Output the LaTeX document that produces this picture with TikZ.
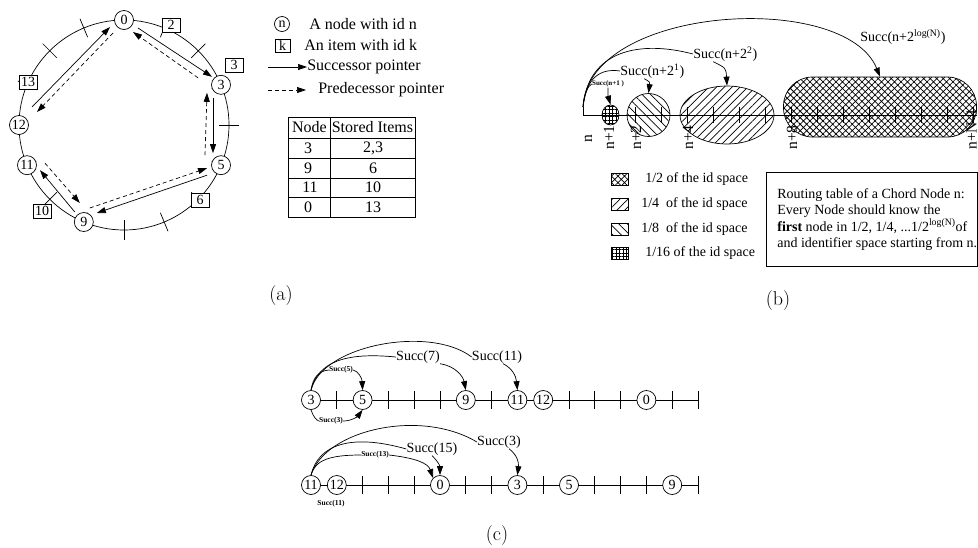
\documentclass[tikz,border=0pt]{standalone}
\usepackage{fontspec}
\newfontfamily\tm{Liberation Serif}
\usetikzlibrary{arrows.meta,patterns.meta,calc,shapes.geometric}
\newcommand\myfs[1]{\fontsize{#1}{#1}\selectfont}
\begin{document}
\begin{tikzpicture}[x=1pt,y=-1pt,font=\tm,line width=0.7pt,
  >={Triangle[length=9pt,width=6pt]},
  ringnode/.style={circle,draw,fill=white,inner sep=0pt,minimum size=19pt,font=\tm\myfs{14}},
  itembox/.style={draw,fill=white,inner sep=0pt,minimum width=18pt,minimum height=14pt,font=\tm\myfs{14}},
  txta/.style={inner sep=0pt,anchor=west,font=\tm\myfs{16}},
  txtb/.style={inner sep=0pt,anchor=west,font=\tm\myfs{14}},
  tabtxt/.style={inner sep=0pt,font=\tm\myfs{16}},
  succ/.style={->},
  pred/.style={->,dash pattern=on 4pt off 3pt},
  capt/.style={inner sep=0pt,font=\normalfont\myfs{20}},
  smalllab/.style={inner sep=0pt,font=\tm\bfseries\myfs{7.5}},
  lab/.style={inner sep=0pt,font=\tm\myfs{14}},
  rotlab/.style={inner sep=0pt,rotate=90,anchor=base west,font=\tm\myfs{15.5}},
  pgrid/.style={pattern={Hatch[angle=0,distance=3.5pt,line width=0.7pt]}},
  pnw/.style={pattern={Lines[angle=-45,distance=6pt,line width=0.7pt]}},
  pne/.style={pattern={Lines[angle=45,distance=5.5pt,line width=0.7pt]}},
  pcross/.style={pattern={Hatch[angle=45,distance=4.6pt,line width=0.75pt]}},
]
\useasboundingbox (0,0) rectangle (978,547);

% ---------------- (a) ----------------
\coordinate (C) at (124,125);
\draw (C) circle[radius=105pt];
\foreach \k in {0,...,15}{
  \draw ($(C)+({90-22.5*\k}:95pt)$) -- ($(C)+({90-22.5*\k}:115pt)$);
}
\foreach \k in {0,3,5,9,11,12}{
  \node[ringnode] (a\k) at ($(C)+({90-22.5*\k}:105pt)$) {\k};
}
\node[itembox] (i2) at (171,25) {2};
\node[itembox] (i3) at (234,65) {3};
\node[itembox] (i6) at (200,200) {6};
\node[itembox] (i10) at (42,211) {10};
\node[itembox] (i13) at (28,82) {13};

\draw[succ] ([shift={(14,8)}]a0.center) -- ([shift={(-9,-8)}]a3.center);
\draw[pred] ([shift={(-23,-7)}]a3.center) -- ([shift={(9,12)}]a0.center);
\draw[succ] ([shift={(-8,13)}]a3.center) -- ([shift={(-8,-12)}]a5.center);
\draw[pred] ([shift={(-16,-10)}]a5.center) -- ([shift={(-14,8)}]a3.center);
\draw[succ] ([shift={(-14,10)}]a5.center) -- ([shift={(13,-9)}]a9.center);
\draw[pred] ([shift={(6,-14)}]a9.center) -- ([shift={(-14,3)}]a5.center);
\draw[succ] ([shift={(-9,-10)}]a9.center) -- ([shift={(13,5)}]a11.center);
\draw[pred] ([shift={(18,-2)}]a11.center) -- ([shift={(-4,-19)}]a9.center);
\draw[succ] ([shift={(13,-18)}]a12.center) -- ([shift={(-14,7)}]a0.center);
\draw[pred] ([shift={(-11,13)}]a0.center) -- ([shift={(18,-13)}]a12.center);

% legend (a)
\node[circle,draw,inner sep=0pt,minimum size=15pt,font=\tm\myfs{14}] (lgn) at (282,24) {n};
\node[txta] (lgnt) at (309,24) {A node with id n};
\node[draw,inner sep=0pt,minimum width=15pt,minimum height=13pt,font=\tm\myfs{14}] (lgk) at (282.5,45.5) {k};
\node[txta] (lgkt) at (304,45.5) {An item with id k};
\coordinate (ls1) at (268,67);
\node[txta] (lgs) at (307,67) {Successor pointer};
\draw[succ] (ls1) -- (lgs.west);
\coordinate (ls2) at (268,90);
\coordinate (le2) at (306,90);
\node[txta] (lgp) at (318,90) {Predecessor pointer};
\draw[pred] (ls2) -- (le2);

% table
\draw (288,117) rectangle (415,217);
\foreach \y in {138,158,178,197} \draw (288,\y) -- (415,\y);
\draw (330,117) -- (330,217);
\node[tabtxt] at (309.5,127.5) {Node};
\node[tabtxt] at (372.5,127.5) {Stored Items};
\node[tabtxt] at (308,148) {3};   \node[tabtxt] at (373,148) {2,3};
\node[tabtxt] at (308,168) {9};   \node[tabtxt] at (373,168) {6};
\node[tabtxt] at (310,187.5) {11}; \node[tabtxt] at (373,187.5) {10};
\node[tabtxt] at (308,207) {0};   \node[tabtxt] at (373,207) {13};

\node[capt] at (281,296) {(a)};

% ---------------- (b) ----------------
\coordinate (bn) at (583,107);
\node[ellipse,draw,inner sep=0pt,minimum width=17pt,minimum height=20pt,pgrid] (e1) at (610.5,115) {};
\node[circle,draw,inner sep=0pt,minimum size=43pt,pnw] (e2) at (648.5,115) {};
\node[ellipse,draw,inner sep=0pt,minimum width=94pt,minimum height=58pt,pne] (e4) at (727,115) {};
\node[draw,rounded corners=29pt,inner sep=0pt,minimum width=193pt,minimum height=60pt,pcross] (e8) at (880,107) {};
\draw (583,115) -- (977,115);
\draw (bn) -- (583,115);
\foreach \k in {1,...,15} \draw ({583+26*\k},107) -- ({583+26*\k},123);

\node[rotlab] at (592,143) {n};
\node[rotlab] at (614,150) {n+1};
\node[rotlab] at (641,150) {n+2};
\node[rotlab] at (693,150) {n+4};
\node[rotlab] at (797,150) {n+8};
\node[rotlab] at (976.5,150) {n+N-1};

\node[smalllab,font=\tm\bfseries\myfs{7}] (s1) at (608,84) {Succ(n+1\ )};
\node[lab,anchor=west] (s2) at (620,71) {Succ(n+2\textsuperscript{1})};
\node[lab,anchor=west] (s3) at (693,54) {Succ(n+2\textsuperscript{2})};
\node[lab,anchor=west] (s4) at (860,37) {Succ(n+2\textsuperscript{log(N)})};

\draw (bn) .. controls (585,92) and (588,86) .. (s1.west);
\draw (bn) .. controls (586,78) and (600,68) .. (s2.west);
\draw (bn) .. controls (588,50) and (640,40) .. (s3.west);
\draw[->] (bn) .. controls (588,5) and (845,-10) .. (e8.north);
\draw[->] (s1.south) .. controls (608,96) .. (e1.north);
\draw[->] ([xshift=-8pt]s2.south) .. controls (650,82) .. (e2.north);
\draw[->] ([xshift=-12pt]s3.south) .. controls (726,68) .. (e4.north);

% legend (b)
\node[draw,inner sep=0pt,minimum width=17pt,minimum height=12pt,pcross] (b1) at (619.5,179) {};
\node[txtb] at (645,179) {1/2 of the id space};
\node[draw,inner sep=0pt,minimum width=17pt,minimum height=12pt,pne] (b2) at (619.5,204) {};
\node[txtb] at (641,204) {1/4\ \ of the id space};
\node[draw,inner sep=0pt,minimum width=17pt,minimum height=12pt,pnw] (b3) at (619.5,229.5) {};
\node[txtb] at (641,229.5) {1/8\ \ of the id space};
\node[draw,inner sep=0pt,minimum width=17pt,minimum height=12pt,pgrid] (b4) at (619.5,253) {};
\node[txtb] at (645,253) {1/16 of the id space};

\node[draw,inner sep=0pt,minimum width=211pt,minimum height=94pt] (tb) at (871.5,219) {};
\node[inner sep=0pt,anchor=base west,font=\tm\myfs{14}] at (777,198) {Routing table of a Chord Node n:};
\node[inner sep=0pt,anchor=base west,font=\tm\myfs{14}] at (777,214) {Every Node should know the};
\node[inner sep=0pt,anchor=base west,font=\tm\myfs{14}] at (777,231) {\textbf{first} node in 1/2, 1/4, ...1/2\textsuperscript{log(N)}of};
\node[inner sep=0pt,anchor=base west,font=\tm\myfs{14}] at (777,247) {and identifier space starting from n.};

\node[capt] at (778,301) {(b)};

% ---------------- (c) ----------------
\draw (311,400) -- (698,400);
\foreach \i in {1,3,4,5,7,10,11,12,14,15} \draw ({311+25.8*\i},391) -- ({311+25.8*\i},409);
\node[ringnode] (r3) at (311,400) {3};
\node[ringnode] (r5) at (362.6,400) {5};
\node[ringnode] (r9) at (465.8,400) {9};
\node[ringnode] (r11) at (517.4,400) {11};
\node[ringnode] (r12) at (543.2,400) {12};
\node[ringnode] (r0) at (646.4,400) {0};

\node[smalllab] (l5) at (341,370) {Succ(5)};
\node[smalllab] (l3) at (331,421) {Succ(3)};
\node[lab] (l7) at (418,357) {Succ(7)};
\node[lab] (l11) at (497,357) {Succ(11)};
\draw (r3.north) .. controls (313,378) and (318,371) .. (l5.west);
\draw[->] (l5.east) .. controls (358,371) and (362,378) .. (r5.north);
\draw (r3.south) .. controls (313,416) and (316,420) .. (l3.west);
\draw[->] (l3.east) .. controls (352,421) and (358,416) .. (r5.south);
\draw (r3.north) .. controls (318,362) and (345,352) .. (l7.west);
\draw[->] (l7.south east) .. controls (455,366) and (463,376) .. (r9.north);
\draw (r3.north) .. controls (322,345) and (430,325) .. (l11.west);
\draw[->] ([xshift=6pt]l11.south) .. controls (512,368) and (516,376) .. (r11.north);

\draw (311,485) -- (698,485);
\foreach \i in {2,3,4,6,7,9,11,12,13,15} \draw ({311+25.8*\i},476) -- ({311+25.8*\i},494);
\node[ringnode] (q11) at (311,485) {11};
\node[ringnode] (q12) at (336.8,485) {12};
\node[ringnode] (q0) at (440,485) {0};
\node[ringnode] (q3) at (517.4,485) {3};
\node[ringnode] (q5) at (569,485) {5};
\node[ringnode] (q9) at (672.2,485) {9};

\node[smalllab] (m11) at (331,504) {Succ(11)};
\node[smalllab] (m13) at (375,455) {Succ(13)};
\node[lab] (m15) at (432,449) {Succ(15)};
\node[lab] (m3) at (499,442) {Succ(3)};
\draw (q11.north) .. controls (315,460) and (330,455) .. (m13.west);
\draw[->] (m13.east) .. controls (415,458) and (428,463) .. (q0.north west);
\draw (q11.north) .. controls (318,445) and (350,433) .. (m15.west);
\draw[->] (m15.south) .. controls (437,460) and (440,466) .. (q0.north);
\draw (q11.north) .. controls (325,430) and (420,408) .. (m3.west);
\draw[->] ([xshift=10pt]m3.south) .. controls (517,455) and (519,462) .. (q3.north);

\node[capt] at (497,536) {(c)};
\end{tikzpicture}
\end{document}
